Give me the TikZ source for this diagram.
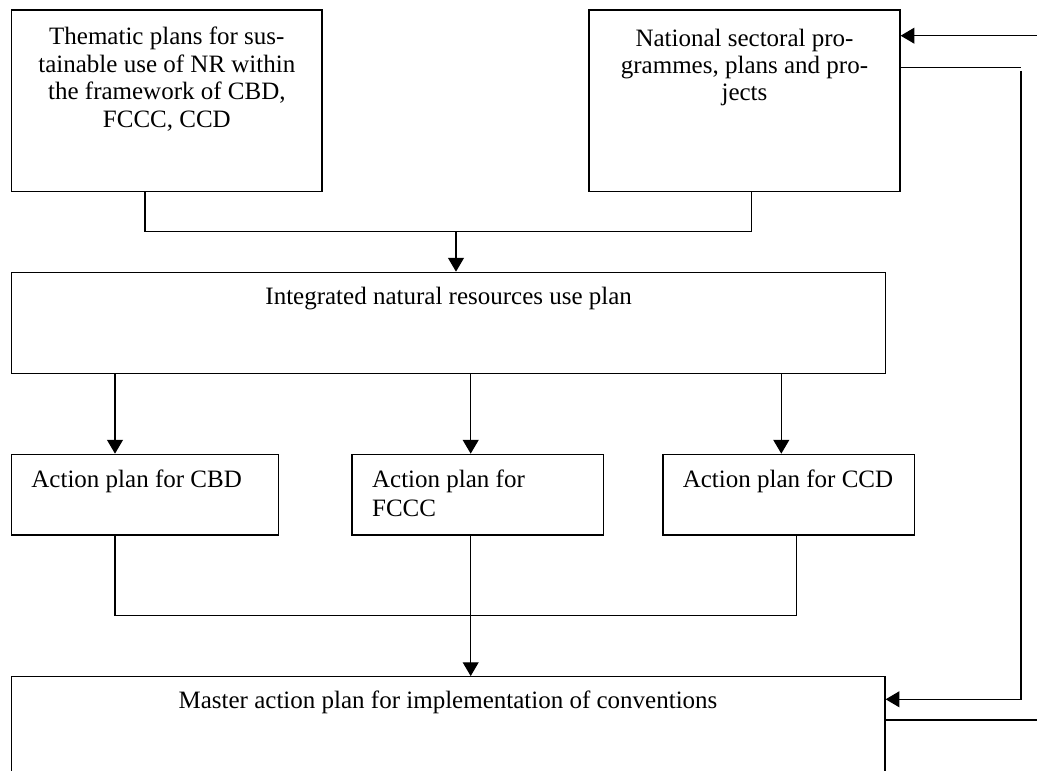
\documentclass[tikz,border=0pt]{standalone}
\usepackage{fontspec}
\setmainfont{Liberation Serif}
\usetikzlibrary{arrows.meta,calc}
\newcommand\mylines[2]{\begin{tabular}[t]{@{}#1@{}}#2\end{tabular}}
\begin{document}
\begin{tikzpicture}[x=0.48pt,y=-0.48pt,
  ln/.style={line width=0.6pt},
  arr/.style={ln,-{Triangle[length=6.6pt,width=7.6pt]}},
  bx/.style 2 args={draw,line width=0.6pt,rectangle,inner sep=0pt,minimum width=#1*0.48pt,minimum height=#2*0.48pt},
  txt/.style={font=\fontsize{12}{13.2}\selectfont,inner sep=0pt,anchor=base},
]
\useasboundingbox (0,0) rectangle (1037,771);
\clip (0,0) rectangle (1037,771);

% boxes
\node[bx={310.3}{181.7}] (A) at (166.85,100.85) {};
\node[bx={311}{181.7}] (B) at (744.5,100.85) {};
\node[bx={874}{101}] (I) at (448.7,322.8) {};
\node[bx={266.6}{80.7}] (CBD) at (145,494.65) {};
\node[bx={251.7}{80.7}] (FC) at (477.85,494.65) {};
\node[bx={251.3}{80.7}] (CCD) at (788.65,494.65) {};
\node[bx={873.3}{160}] (M) at (448.35,756.7) {};

% texts
\node[txt,font=\fontsize{12}{13.2}\selectfont] (tA) at (166.85,45)
  {\mylines{c}{Thematic plans for sus-\\tainable use of NR within\\the framework of CBD,\\FCCC, CCD}};
\node[txt,font=\fontsize{12}{13}\selectfont] (tB) at (744.5,46.5)
  {\mylines{c}{National sectoral pro-\\grammes, plans and pro-\\jects}};
\node[txt] (tI) at (448.7,305) {Integrated natural resources use plan};
\node[txt,anchor=base west] (tCBD) at (31,487.7) {Action plan for CBD};
\node[txt,anchor=base west,font=\fontsize{12}{13.9}\selectfont] (tFC) at (371.7,487.7)
  {\mylines{l}{Action plan for\\FCCC}};
\node[txt] (tCCD) at (788,487.7) {Action plan for CCD};
\node[txt] (tM) at (448,708.3) {Master action plan for implementation of conventions};

% top merge
\coordinate (jA) at (145,231.7);
\coordinate (jB) at (751.7,231.7);
\coordinate (jM) at (456,231.7);
\draw[ln] (A.south -| jA) -- (jA) -- (jB) -- (B.south -| jB);
\draw[arr] (jM) -- (I.north -| jM);

% integrated plan to action plans
\coordinate (x1) at (115,0);
\coordinate (x2) at (470.7,0);
\coordinate (x3) at (781.3,0);
\draw[arr] (I.south -| x1) -- (CBD.north -| x1);
\draw[arr] (I.south -| x2) -- (FC.north -| x2);
\draw[arr] (I.south -| x3) -- (CCD.north -| x3);

% action plans to master
\coordinate (kA) at (115,615.7);
\coordinate (kC) at (796.7,615.7);
\draw[ln] (CBD.south -| kA) -- (kA) -- (kC) -- (CCD.south -| kC);
\draw[arr] (FC.south -| x2) -- (M.north -| x2);

% feedback on the right
\coordinate (r1) at (1037,35.7);
\draw[arr] (r1) -- (B.east |- r1);
\coordinate (r2) at (1021,67.7);
\draw[ln] (B.east |- r2) -- (r2);
\coordinate (r2b) at (1021,71);
\coordinate (r3) at (1021,699.3);
\draw[arr] (r2b) -- (r3) -- (M.east |- r3);
\coordinate (r4) at (1037,720);
\draw[ln] (M.east |- r4) -- (r4);
\end{tikzpicture}
\end{document}
